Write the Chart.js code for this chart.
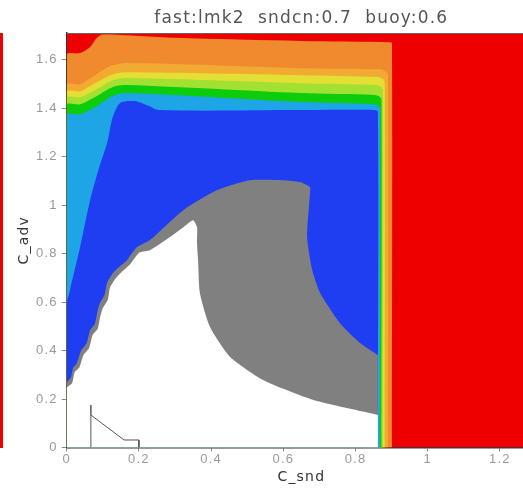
<!DOCTYPE html>
<html>
<head>
<meta charset="utf-8">
<script src="https://cdn.jsdelivr.net/npm/chart.js@4.4.1/dist/chart.umd.min.js"></script>
<style>
  html, body { margin: 0; padding: 0; background: #fff; overflow: hidden; }
  #wrap { position: relative; width: 540px; height: 488px; }
  #edge { position: absolute; left: 0; top: 33px; width: 3px; height: 415px; background: #ee0000; }
</style>
</head>
<body>
<div id="wrap">
  <canvas id="chart" width="540" height="488"></canvas>
  <div id="edge"></div>
</div>
<script>
// ********** DATA ***********
let xTicks = [0, 0.2, 0.4, 0.6, 0.8, 1, 1.2];
let yTicks = [0, 0.2, 0.4, 0.6, 0.8, 1, 1.2, 1.4, 1.6];

// contour regions, [C_snd, C_adv] outlines, each one drawn over the one before
let redArea = [[0, 0], [0, 1.71], [1.3, 1.71], [1.3, 0]];
let orangeArea = [[0, 0], [0, 1.619], [0.037, 1.627], [0.065, 1.652], [0.083, 1.689], [0.1, 1.704],
  [0.3, 1.69], [0.65, 1.677], [0.895, 1.672], [0.901, 1.668], [0.901, 0]];
let lightOrangeArea = [[0, 0], [0, 1.495], [0.037, 1.499], [0.078, 1.536], [0.12, 1.573], [0.167, 1.586],
  [0.646, 1.565], [0.87, 1.56], [0.884, 1.55], [0.89, 1.536], [0.89, 0]];
let yellowArea = [[0, 0], [0, 1.466], [0.037, 1.47], [0.078, 1.503], [0.128, 1.54], [0.167, 1.548],
  [0.646, 1.536], [0.862, 1.528], [0.876, 1.52], [0.881, 1.507], [0.881, 0]];
let limeArea = [[0, 0], [0, 1.441], [0.037, 1.445], [0.078, 1.474], [0.128, 1.515], [0.167, 1.524],
  [0.646, 1.503], [0.857, 1.495], [0.871, 1.487], [0.876, 1.474], [0.876, 0]];
let greenArea = [[0, 0], [0, 1.412], [0.037, 1.416], [0.078, 1.445], [0.128, 1.487], [0.167, 1.495],
  [0.646, 1.462], [0.852, 1.454], [0.867, 1.447], [0.872, 1.433], [0.872, 0]];
let cyanArea = [[0, 0], [0, 1.371], [0.037, 1.375], [0.078, 1.404], [0.128, 1.45], [0.167, 1.462],
  [0.646, 1.425], [0.849, 1.416], [0.863, 1.41], [0.868, 1.4], [0.868, 0]];
let blueArea = [[0, 0], [0, 0.59], [0.009, 0.649], [0.037, 0.827], [0.065, 1.021], [0.092, 1.165],
  [0.112, 1.256], [0.125, 1.35], [0.139, 1.404], [0.153, 1.425], [0.189, 1.429], [0.222, 1.412],
  [0.258, 1.392], [0.646, 1.392], [0.852, 1.392], [0.862, 1.385], [0.862, 0]];
let grayArea = [[0, 0], [0, 0.266], [0.012, 0.29], [0.018, 0.33], [0.028, 0.348], [0.04, 0.4],
  [0.055, 0.43], [0.065, 0.485], [0.078, 0.51], [0.085, 0.56], [0.092, 0.596], [0.105, 0.63],
  [0.112, 0.68], [0.128, 0.72], [0.145, 0.745], [0.167, 0.773], [0.18, 0.8], [0.195, 0.827],
  [0.231, 0.856], [0.323, 0.979], [0.417, 1.062], [0.508, 1.103], [0.6, 1.103], [0.646, 1.095],
  [0.674, 1.074], [0.674, 1.05], [0.666, 0.868], [0.68, 0.732], [0.702, 0.637], [0.757, 0.513],
  [0.813, 0.431], [0.862, 0.381], [0.862, 0.375], [0.862, 0]];
let whiteArea = [[0, 0], [0, 0.245], [0.015, 0.265], [0.022, 0.31], [0.035, 0.33], [0.046, 0.38],
  [0.062, 0.41], [0.072, 0.465], [0.086, 0.49], [0.093, 0.54], [0.1, 0.575], [0.114, 0.61],
  [0.12, 0.66], [0.137, 0.7], [0.153, 0.725], [0.175, 0.755], [0.19, 0.785], [0.203, 0.805],
  [0.231, 0.814], [0.286, 0.868], [0.323, 0.909], [0.35, 0.938], [0.361, 0.909], [0.361, 0.843],
  [0.364, 0.773], [0.369, 0.637], [0.397, 0.497], [0.453, 0.373], [0.544, 0.278], [0.683, 0.196],
  [0.862, 0.134], [0.862, 0.128], [0.862, 0]];
// little outline drawn in the lower left
let markLine = [[0.067, 0], [0.067, 0.175], [0.067, 0.134], [0.159, 0.031], [0.2, 0.031], [0.2, 0]];

// ********** STYLES ***********
let areaList = [redArea, orangeArea, lightOrangeArea, yellowArea, limeArea, greenArea, cyanArea, blueArea, grayArea, whiteArea];
let areaColors = ['#ee0000', '#ef8a2e', '#f2aa32', '#e4df34', '#a2e032', '#0ccc0c', '#1ea5e6', '#1f3ef2', '#808080', '#ffffff'];
let areaTension = [0, 0.3, 0.3, 0.3, 0.3, 0.3, 0.3, 0.3, 0.2, 0.2];

function toPoints(arr) {
  return arr.map(p => ({x: p[0], y: p[1]}));
}

let datasets = areaList.map((area, i) => ({
  data: toPoints(area),
  showLine: true,
  fill: 'shape',
  backgroundColor: areaColors[i],
  borderColor: 'rgba(0,0,0,0)',
  borderWidth: 0,
  pointRadius: 0,
  tension: areaTension[i],
  order: 100 - i
}));
datasets.push({
  data: toPoints(markLine),
  showLine: true,
  fill: false,
  borderColor: '#555',
  borderWidth: 1,
  pointRadius: 0,
  tension: 0,
  order: 0
});

// wider letters like the original plot font
let spacing = {
  id: 'spacing',
  beforeDraw(chart) {
    chart.ctx.letterSpacing = '1.2px';
  }
};

// thin frame line on top of the plot
let topFrame = {
  id: 'topFrame',
  afterDatasetsDraw(chart) {
    let a = chart.chartArea;
    let ctx = chart.ctx;
    ctx.save();
    ctx.strokeStyle = '#666';
    ctx.lineWidth = 1;
    ctx.beginPath();
    ctx.moveTo(a.left, a.top + 0.5);
    ctx.lineTo(a.right, a.top + 0.5);
    ctx.stroke();
    ctx.restore();
  }
};

let tickFont = {family: 'Liberation Sans', size: 13};
let axisTitleFont = {family: 'DejaVu Sans', size: 14};

new Chart(document.getElementById('chart'), {
  type: 'scatter',
  data: {datasets: datasets},
  plugins: [spacing, topFrame],
  options: {
    responsive: false,
    animation: false,
    events: [],
    layout: {padding: {left: 0, right: 4, top: 0, bottom: 0}},
    plugins: {
      legend: {display: false},
      tooltip: {enabled: false},
      title: {
        display: true,
        fullSize: false,
        text: 'fast:lmk2  sndcn:0.7  buoy:0.6',
        color: '#555',
        font: {family: 'DejaVu Sans', size: 17, weight: 'normal'},
        padding: {top: 8, bottom: 4.6}
      }
    },
    scales: {
      x: {
        type: 'linear',
        min: 0,
        max: 1.3,
        afterFit: s => { s.height = 40.5; },
        afterBuildTicks: s => { s.ticks = xTicks.map(v => ({value: v})); },
        ticks: {color: '#999', font: tickFont, padding: 0, maxRotation: 0, callback: v => String(v)},
        grid: {display: true, drawOnChartArea: false, tickLength: 4, tickColor: '#888'},
        border: {color: '#333', width: 1.5},
        title: {display: true, text: 'C_snd', color: '#333', font: axisTitleFont, padding: {top: 0, bottom: 2}}
      },
      y: {
        type: 'linear',
        min: 0,
        max: 1.71,
        afterFit: s => { s.width = 66.7; },
        afterBuildTicks: s => { s.ticks = yTicks.map(v => ({value: v})); },
        ticks: {color: '#999', font: tickFont, padding: 4, callback: v => String(v)},
        grid: {display: true, drawOnChartArea: false, tickLength: 5, tickColor: '#888'},
        border: {color: '#333', width: 1.5},
        title: {display: true, text: 'C_adv', color: '#333', font: axisTitleFont, padding: {top: 16, bottom: 0}}
      }
    }
  }
});
</script>
</body>
</html>
